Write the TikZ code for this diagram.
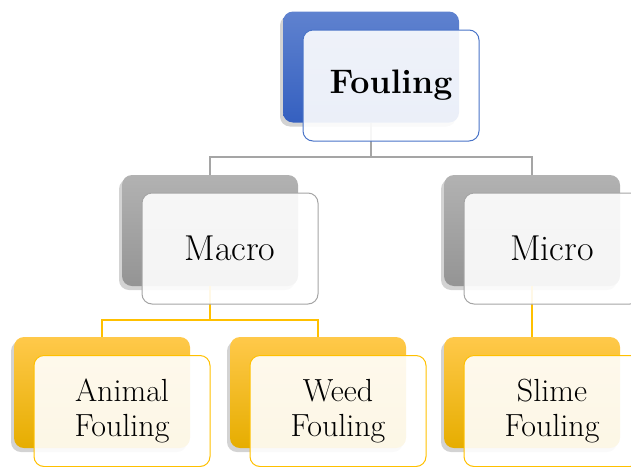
\documentclass[tikz,border=0pt]{standalone}
\usepackage{fontspec}
\usetikzlibrary{shadows}
\definecolor{bluetop}{HTML}{5F82CF}
\definecolor{bluebot}{HTML}{3560C0}
\definecolor{blueline}{HTML}{4A74C8}
\definecolor{greytop}{HTML}{B2B2B2}
\definecolor{greybot}{HTML}{949494}
\definecolor{greyline}{HTML}{A5A5A5}
\definecolor{yeltop}{HTML}{FFC94A}
\definecolor{yelmid}{HTML}{FFC000}
\definecolor{yelbot}{HTML}{E6AD00}
\definecolor{yelline}{HTML}{FFC000}
\tikzset{
  backbox/.style={rectangle, rounded corners=10pt, minimum width=176pt, minimum height=111pt,
    inner sep=0pt, drop shadow={shadow xshift=-3pt, shadow yshift=-4pt, opacity=0.35}},
  frontbox/.style={rectangle, rounded corners=10pt, minimum width=176pt, minimum height=111pt,
    inner sep=0pt, line width=1pt, fill opacity=0.9, text opacity=1, align=center},
  bluebox/.style={backbox, top color=bluetop, bottom color=bluebot},
  greybox/.style={backbox, top color=greytop, bottom color=greybot},
  yelbox/.style={backbox, top color=yeltop, middle color=yelmid, bottom color=yelbot},
  bluefront/.style={frontbox, draw=blueline, fill=white,
    font=\fontsize{34}{38}\selectfont\bfseries},
  greyfront/.style={frontbox, draw=greyline, fill=white,
    font=\fontsize{36}{40}\selectfont},
  yelfront/.style={frontbox, draw=yelline, fill=white,
    font=\fontsize{32}{35}\selectfont},
  greylink/.style={draw=greyline, line width=2pt},
  yellink/.style={draw=yelline, line width=2pt}
}
\begin{document}
\begin{tikzpicture}[x=1pt, y=-1pt]
\useasboundingbox (0,0) rectangle (631,466);
\clip (0,0) rectangle (631,466);
% back boxes
\node[bluebox] (fb) at (371,67) {};
\node[greybox] (mb) at (210,230.5) {};
\node[greybox] (mib) at (532,230.5) {};
\node[yelbox] (ab) at (102,392.5) {};
\node[yelbox] (wb) at (318,392.5) {};
\node[yelbox] (sb) at (532,392.5) {};
% connectors
\draw[greylink] (fb.south) -- ++(0,34) -| (mb.north);
\draw[greylink] (fb.south) -- ++(0,34) -| (mib.north);
\draw[yellink] (mb.south) -- ++(0,34) -| (ab.north);
\draw[yellink] (mb.south) -- ++(0,34) -| (wb.north);
\draw[yellink] (mib.south) -- (sb.north);
% front boxes
\node[bluefront] (ff) at (391,85.5) {Fouling};
\node[greyfront] (mf) at (230,248.5) {Macro};
\node[greyfront] (mif) at (552,248.5) {Micro};
\node[yelfront] (af) at (122,411) {Animal\\Fouling};
\node[yelfront] (wf) at (338,411) {Weed\\Fouling};
\node[yelfront] (sf) at (552,411) {Slime\\Fouling};
\end{tikzpicture}
\end{document}
